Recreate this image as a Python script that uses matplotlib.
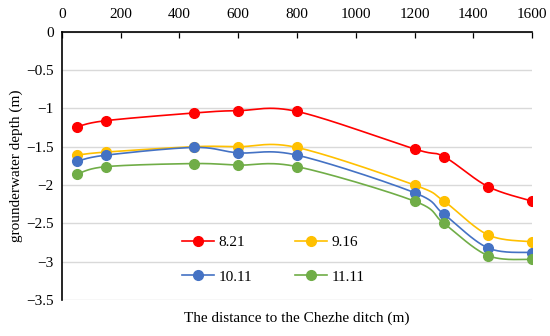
import numpy as np
import matplotlib as mpl
import matplotlib.pyplot as plt
import matplotlib.ticker as ticker

# ---- data ----
distance = [50, 150, 450, 600, 800, 1200, 1300, 1450, 1600]
depth_0821 = [-1.24, -1.16, -1.06, -1.03, -1.04, -1.53, -1.63, -2.02, -2.21]
depth_0916 = [-1.61, -1.57, -1.50, -1.50, -1.51, -2.00, -2.21, -2.65, -2.74]
depth_1011 = [-1.69, -1.61, -1.51, -1.58, -1.61, -2.10, -2.38, -2.82, -2.88]
depth_1111 = [-1.86, -1.76, -1.72, -1.74, -1.76, -2.21, -2.50, -2.92, -2.97]

labels = ["8.21", "9.16", "10.11", "11.11"]
series = [depth_0821, depth_0916, depth_1011, depth_1111]
colors = ["#FF0000", "#FFC000", "#4472C4", "#70AD47"]

mpl.rcParams.update({
    "font.family": ["Liberation Serif", "DejaVu Serif"],
    "font.size": 11,
    "axes.unicode_minus": True,
})


def smooth(x, y, n=30):
    # Excel-like smoothed line: Bezier segments with Catmull-Rom control points
    p = np.column_stack([x, y]).astype(float)
    ext = np.vstack([p[0], p, p[-1]])
    t = np.linspace(0, 1, n)[:, None]
    out = []
    for i in range(1, len(ext) - 2):
        p0, p1, p2, p3 = ext[i - 1], ext[i], ext[i + 1], ext[i + 2]
        c1 = p1 + (p2 - p0) / 6
        c2 = p2 - (p3 - p1) / 6
        seg = ((1 - t) ** 3) * p1 + 3 * ((1 - t) ** 2) * t * c1 + 3 * (1 - t) * t ** 2 * c2 + t ** 3 * p2
        out.append(seg if i == 1 else seg[1:])
    seg = np.vstack(out)
    return seg[:, 0], seg[:, 1]


fig = plt.figure(figsize=(5.5, 3.36), dpi=100)
ax = fig.add_axes([0.1127, 0.107, 0.8546, 0.7987])

for ys, lab, c in zip(series, labels, colors):
    sx, sy = smooth(distance, ys)
    ax.plot(sx, sy, color=c, lw=1.2, zorder=3)
    ax.plot(distance, ys, "o", color=c, ms=7, zorder=4)

ax.set_xlim(0, 1600)
ax.set_ylim(-3.5, 0)
ax.xaxis.set_major_locator(ticker.MultipleLocator(200))
ax.yaxis.set_major_locator(ticker.MultipleLocator(0.5))
ax.yaxis.set_major_formatter(ticker.FuncFormatter(
    lambda v, _: "0" if abs(v) < 1e-9 else f"{v:g}".replace("-", "\u2212")))

ax.xaxis.tick_top()
ax.tick_params(axis="x", direction="in", length=4, width=0.9, pad=8, labelsize=11)
ax.tick_params(axis="y", length=0, pad=6, labelsize=11)

for s in ["right", "bottom"]:
    ax.spines[s].set_visible(False)
ax.spines["left"].set_linewidth(1.2)
ax.spines["top"].set_linewidth(1.2)
ax.spines["left"].set_zorder(5)
ax.spines["top"].set_zorder(5)

ax.grid(axis="y", color="#D9D9D9", lw=1.0, zorder=0)
ax.set_axisbelow(True)

ax.set_xlabel("The distance to the Chezhe ditch (m)", fontsize=11, labelpad=8)
ax.xaxis.set_label_position("bottom")
ax.set_ylabel("grounderwater depth (m)", fontsize=11, labelpad=2)

handles = []
for lab, c in zip(labels, colors):
    h = mpl.lines.Line2D([], [], color=c, lw=1.2, marker="o", ms=7, label=lab)
    handles.append(h)
order = [0, 2, 1, 3]
ax.legend([handles[i] for i in order], [labels[i] for i in order],
          ncol=2, loc="center", bbox_to_anchor=(0.45, 0.15),
          frameon=False, fontsize=11, handlelength=2.1, handletextpad=0.3,
          columnspacing=2.8, labelspacing=1.35)

fig.savefig("out.png", dpi=100)
